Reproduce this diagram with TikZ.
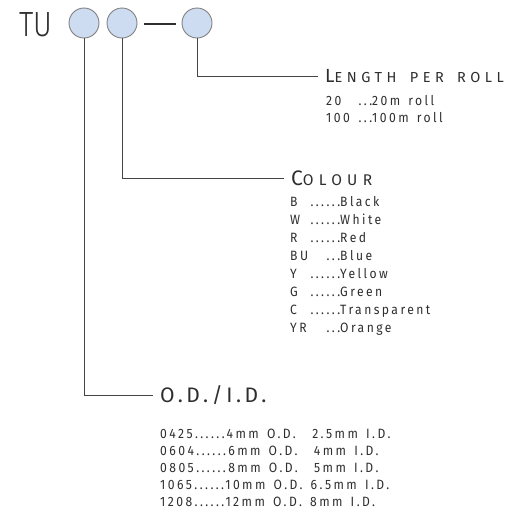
\documentclass[tikz,border=0pt]{standalone}
\usepackage{fontspec}
\setmainfont{Fira Sans}[FakeStretch=0.9, LetterSpace=18, WordSpace=1.45]
\newfontfamily\tufont{Fira Sans Light}[FakeStretch=0.82]
\newfontfamily\headfont{Fira Sans}[LetterSpace=31, WordSpace=1.6]
\usetikzlibrary{positioning}
\definecolor{dotfill}{HTML}{CDDCF0}
\definecolor{ringgray}{HTML}{808080}
\definecolor{leadgray}{HTML}{444444}
\definecolor{inkgray}{HTML}{2E2E2E}
\newcommand\keyrow[4]{\hbox to #1{#2\hfill#3}#4}

\begin{document}
\begin{tikzpicture}[x=1pt, y=-1pt,
  digit/.style={circle, draw=ringgray, fill=dotfill, line width=0.9pt,
                minimum size=30pt, inner sep=0pt},
  head/.style={anchor=west, inner xsep=7pt, inner ysep=0pt, text depth=0pt,
               text=inkgray, font=\headfont},
  items/.style={anchor=north west, inner sep=0pt, align=left, text=inkgray,
                font=\fontsize{13.5}{17.5}\selectfont},
  lead/.style={draw=leadgray, line width=0.9pt}
]
  \useasboundingbox (0,0) rectangle (513,512);

  % part code
  \node[anchor=base west, inner sep=0pt, text=inkgray,
        font=\tufont\fontsize{35}{35}\selectfont] (tu) at (19,36) {TU};
  \node[digit] (od)  at (84,23)  {};
  \node[digit] (col) at (122,23) {};
  \node[digit] (len) at (197,23) {};
  \draw[line width=2.4pt, draw=inkgray] (144,24) -- (176,24);

  % length per roll
  \node[head, text height=13pt] (lenhead) at (318,76)
    {{\fontsize{19}{19}\selectfont L}{\fontsize{14.5}{14.5}\selectfont ENGTH PER ROLL}};
  \node[items] (lenlist) at (326,95)
    {\keyrow{46pt}{20}{...}{20m roll}\\
     \keyrow{46pt}{100}{...}{100m roll}};
  \draw[lead] (len.south) |- (lenhead.west);

  % colour
  \node[head, text height=15pt, font=\headfont\addfontfeatures{LetterSpace=34}]
        (colhead) at (284,178)
    {{\fontsize{21}{21}\selectfont C}{\fontsize{15.5}{15.5}\selectfont OLOUR}};
  \node[items, font=\fontsize{13.5}{18}\selectfont] (collist) at (290,196)
    {\keyrow{50pt}{B}{......}{Black}\\
     \keyrow{50pt}{W}{......}{White}\\
     \keyrow{50pt}{R}{......}{Red}\\
     \keyrow{50pt}{BU}{...}{Blue}\\
     \keyrow{50pt}{Y}{......}{Yellow}\\
     \keyrow{50pt}{G}{......}{Green}\\
     \keyrow{50pt}{C}{......}{Transparent}\\
     \keyrow{50pt}{YR}{...}{Orange}};
  \draw[lead] (col.south) |- (colhead.west);

  % outer / inner diameter
  \node[head, text height=15pt,
        font=\headfont\fontsize{21}{21}\selectfont\addfontfeatures{LetterSpace=17}]
        (odhead) at (153,395) {O.D./I.D.};
  \node[items, font=\fontsize{13.5}{17}\selectfont] (odlist) at (160,429)
    {0425......4mm O.D.\ \ 2.5mm I.D.\\
     0604......6mm O.D.\ \ 4mm I.D.\\
     0805......8mm O.D.\ \ 5mm I.D.\\
     1065......10mm O.D. 6.5mm I.D.\\
     1208......12mm O.D. 8mm I.D.};
  \draw[lead] (od.south) |- (odhead.west);
\end{tikzpicture}
\end{document}
